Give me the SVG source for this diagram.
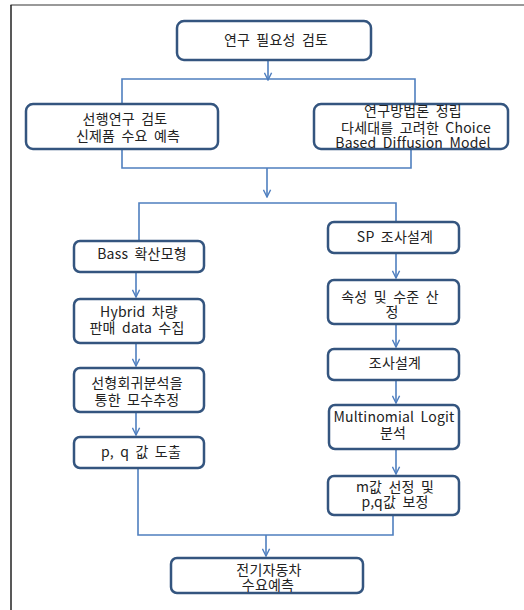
<svg xmlns="http://www.w3.org/2000/svg" width="524" height="610" viewBox="0 0 524 610">
<style>
.box{fill:#fff;stroke:#34557f;stroke-width:2.5}
.ln{fill:none;stroke:#4f7fbf;stroke-width:1.6}
text{font-family:"Noto Sans CJK KR","Noto Sans",sans-serif;font-size:14px;fill:#222;text-anchor:middle;word-spacing:3px;letter-spacing:0.2px}
</style>
<defs>
<marker id="ah" viewBox="0 0 10 10" refX="9" refY="5" markerUnits="userSpaceOnUse" markerWidth="9" markerHeight="9" orient="auto">
<path d="M1,1 L9,5 L1,9" fill="none" stroke="#4f7fbf" stroke-width="1.6"/>
</marker>
</defs>
<rect width="524" height="610" fill="#fff"/>
<path d="M10.5,5 H524" stroke="#777" stroke-width="1.5" fill="none"/>
<path d="M11,5 V610" stroke="#222" stroke-width="1.5" fill="none"/>

<g id="connectors">
<path class="ln" d="M268,60 V80" marker-end="url(#ah)"/>
<path class="ln" d="M122,104 V79 H415 V104"/>
<path class="ln" d="M122,149 V168 H411 V149"/>
<path class="ln" d="M267,168 V197" marker-end="url(#ah)"/>
<path class="ln" d="M139,241 V203 H396 V222"/>
<path class="ln" d="M136,272 V297" marker-end="url(#ah)"/>
<path class="ln" d="M136,343 V366" marker-end="url(#ah)"/>
<path class="ln" d="M136,412 V435" marker-end="url(#ah)"/>
<path class="ln" d="M396,253 V278" marker-end="url(#ah)"/>
<path class="ln" d="M396,324 V347" marker-end="url(#ah)"/>
<path class="ln" d="M396,380 V403" marker-end="url(#ah)"/>
<path class="ln" d="M396,449 V474" marker-end="url(#ah)"/>
<path class="ln" d="M138,468 V535 H393 V515"/>
<path class="ln" d="M266,535 V556" marker-end="url(#ah)"/>
</g>

<g id="n1"><rect class="box" x="177" y="21" width="194" height="39" rx="7"/><text x="276" y="45">연구 필요성 검토</text></g>
<g id="n2"><rect class="box" x="26" y="104" width="192" height="45" rx="7"/><text x="125" y="124">선행연구 검토</text><text x="128" y="141">신제품 수요 예측</text></g>
<g id="n3"><rect class="box" x="314" y="104" width="194" height="45" rx="7"/><text x="413" y="116">연구방법론 정립</text><text x="416" y="133">다세대를 고려한 Choice</text><text x="413" y="148">Based Diffusion Model</text></g>
<g id="n4"><rect class="box" x="74" y="241" width="130" height="31" rx="6"/><text x="142" y="259">Bass 확산모형</text></g>
<g id="n5"><rect class="box" x="74" y="299" width="130" height="44" rx="6"/><text x="139" y="317">Hybrid 차량</text><text x="137" y="333">판매 data 수집</text></g>
<g id="n6"><rect class="box" x="74" y="368" width="130" height="44" rx="6"/><text x="137" y="388">선형회귀분석을</text><text x="137" y="405">통한 모수추정</text></g>
<g id="n7"><rect class="box" x="74" y="437" width="130" height="31" rx="6"/><text x="141" y="457">p, q 값 도출</text></g>
<g id="n8"><rect class="box" x="328" y="222" width="131" height="31" rx="6"/><text x="395" y="242">SP 조사설계</text></g>
<g id="n9"><rect class="box" x="328" y="280" width="131" height="44" rx="6"/><text x="390" y="302">속성 및 수준 산</text><text x="392" y="317">정</text></g>
<g id="n10"><rect class="box" x="328" y="349" width="131" height="31" rx="6"/><text x="395" y="368">조사설계</text></g>
<g id="n11"><rect class="box" x="329" y="405" width="130" height="44" rx="6"/><text x="394" y="422">Multinomial Logit</text><text x="393" y="438">분석</text></g>
<g id="n12"><rect class="box" x="328" y="476" width="131" height="39" rx="6"/><text x="395" y="492">m값 선정 및</text><text x="395" y="507">p,q값 보정</text></g>
<g id="n13"><rect class="box" x="171" y="558" width="192" height="35" rx="6"/><text x="269" y="575">전기자동차</text><text x="268" y="590">수요예측</text></g>
</svg>
